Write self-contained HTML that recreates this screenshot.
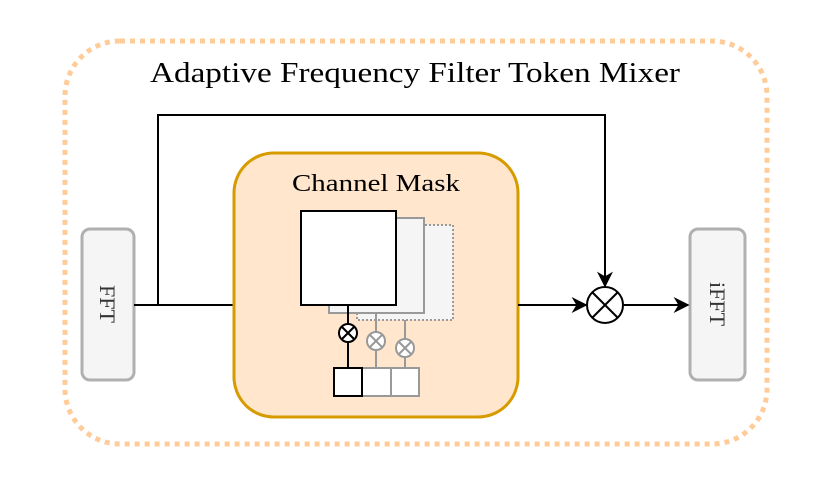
<!DOCTYPE html>
<html><head><meta charset="utf-8"><style>body{margin:0;background:#fff}svg{display:block}</style></head>
<body>
<svg width="831" height="497" viewBox="0 0 831 497" xmlns="http://www.w3.org/2000/svg" font-family="Liberation Serif, serif">
<defs>
<marker id="a" viewBox="0 0 10 10" refX="9" refY="5" markerWidth="18" markerHeight="16" markerUnits="userSpaceOnUse" orient="auto"><path d="M0,0 L10,5 L0,10 L3,5 z" fill="#000"/></marker>
</defs>
<rect x="65" y="41" width="702" height="403" rx="55" fill="none" stroke="#ffcc99" stroke-width="5" stroke-dasharray="5,5"/>
<text x="150" y="82" font-size="28" textLength="530" lengthAdjust="spacingAndGlyphs">Adaptive Frequency Filter Token Mixer</text>
<rect x="82" y="229" width="52" height="151" rx="8" fill="#f5f5f5" stroke="#b0b0b0" stroke-width="3"/>
<text transform="translate(100,304) rotate(90)" font-size="22" text-anchor="middle" fill="#333">FFT</text>
<rect x="690" y="229" width="55" height="151" rx="8" fill="#f5f5f5" stroke="#b0b0b0" stroke-width="3"/>
<text transform="translate(710,304) rotate(90)" font-size="22" text-anchor="middle" fill="#333">iFFT</text>
<polyline points="134,305 233,305" fill="none" stroke="#000" stroke-width="2"/>
<polyline points="158,305 158,115 605,115 605,286" fill="none" stroke="#000" stroke-width="2" marker-end="url(#a)"/>
<rect x="234" y="153" width="284" height="264" rx="40" fill="#ffe6cc" stroke="#d79b00" stroke-width="3"/>
<text x="292" y="191" font-size="24" textLength="168" lengthAdjust="spacingAndGlyphs">Channel Mask</text>
<line x1="518" y1="305" x2="586" y2="305" stroke="#000" stroke-width="2" marker-end="url(#a)"/>
<line x1="624" y1="305" x2="688" y2="305" stroke="#000" stroke-width="2" marker-end="url(#a)"/>
<circle cx="605" cy="305" r="18" fill="#fff" stroke="#000" stroke-width="2"/>
<line x1="592" y1="292" x2="618" y2="318" stroke="#000" stroke-width="2"/>
<line x1="618" y1="292" x2="592" y2="318" stroke="#000" stroke-width="2"/>
<rect x="357" y="225" width="96" height="95" fill="#f5f5f5" stroke="#999" stroke-width="2" stroke-dasharray="2,2"/>
<rect x="329" y="218" width="95" height="95" fill="#f5f5f5" stroke="#999" stroke-width="2"/>
<rect x="301" y="211" width="95" height="94" fill="#fff" stroke="#000" stroke-width="2"/>
<line x1="376" y1="313" x2="376" y2="368" stroke="#999" stroke-width="2"/>
<line x1="405" y1="320" x2="405" y2="368" stroke="#999" stroke-width="2"/>
<line x1="348" y1="305" x2="348" y2="368" stroke="#000" stroke-width="2"/>
<g stroke="#999" stroke-width="2" fill="#fff">
<circle cx="376" cy="341" r="9"/><line x1="370" y1="335" x2="382" y2="347"/><line x1="382" y1="335" x2="370" y2="347"/>
<circle cx="405" cy="348" r="9"/><line x1="399" y1="342" x2="411" y2="354"/><line x1="411" y1="342" x2="399" y2="354"/>
<rect x="362" y="368" width="29" height="28"/><rect x="391" y="368" width="28" height="28"/>
</g>
<g stroke="#000" stroke-width="2" fill="#fff">
<circle cx="348" cy="333" r="9"/><line x1="342" y1="327" x2="354" y2="339"/><line x1="354" y1="327" x2="342" y2="339"/>
<rect x="334" y="368" width="28" height="28"/>
</g>
</svg>
</body></html>
